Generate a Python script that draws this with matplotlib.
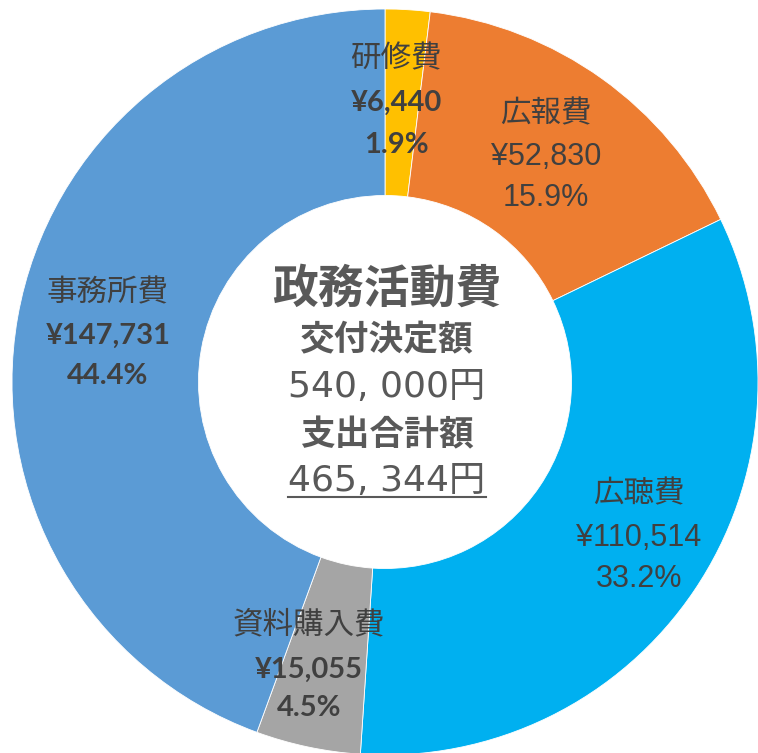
import matplotlib
matplotlib.use("Agg")
import matplotlib.pyplot as plt

plt.rcParams['font.family'] = ['Noto Sans CJK JP', 'DejaVu Sans']

categories = ['研修費', '広報費', '広聴費', '資料購入費', '事務所費']
values = [6440, 52830, 110514, 15055, 147731]
value_labels = ['¥6,440', '¥52,830', '¥110,514', '¥15,055', '¥147,731']
pct_labels = ['1.9%', '15.9%', '33.2%', '4.5%', '44.4%']
colors = ['#FFC000', '#ED7D31', '#00B0F0', '#A5A5A5', '#5B9BD5']
bold_values = [True, False, False, True, True]

center_lines = ['政務活動費', '交付決定額', '540, 000円', '支出合計額', '465, 344円']

W, H = 758, 753
CX, CY, R = 385, 382, 373

fig = plt.figure(figsize=(W / 100, H / 100), dpi=100)
ax = fig.add_axes([0, 0, 1, 1])
ax.axis('off')

ax.pie(values, colors=colors, startangle=90, counterclock=False, radius=1.0,
       wedgeprops=dict(width=0.5, edgecolor='white', linewidth=0.6))
ax.set_xlim(-CX / R, (W - CX) / R)
ax.set_ylim(-(H - CY) / R, CY / R)
ax.set_aspect('auto')


def d(px, py):
    return (px - CX) / R, (CY - py) / R


label_pos = [
    (396, [59, 103, 145]),
    (546, [114, 157, 198]),
    (639, [494, 538, 579]),
    (309, [625, 670, 708]),
    (108, [293, 336, 376]),
]

tc = '#404040'
for i, (px, ys) in enumerate(label_pos):
    x, y0 = d(px, ys[0])
    ax.text(x, y0, categories[i], ha='center', va='center', fontsize=22, color=tc)
    wt = 'bold' if bold_values[i] else 'normal'
    fam = ['Lato', 'DejaVu Sans'] if bold_values[i] else ['Liberation Sans Narrow', 'Liberation Sans', 'DejaVu Sans']
    fs = 21 if bold_values[i] else 22
    _, y1 = d(px, ys[1])
    ax.text(x, y1, value_labels[i], ha='center', va='center', fontsize=fs,
            color=tc, fontweight=wt, family=fam)
    _, y2 = d(px, ys[2])
    ax.text(x, y2, pct_labels[i], ha='center', va='center', fontsize=fs,
            color=tc, fontweight=wt, family=fam)

cc = '#595959'
center_y = [290, 340, 387, 435, 481]
center_size = [33, 25, 26, 25, 26]
center_wt = ['bold', 'bold', 'normal', 'bold', 'normal']
center_fam = [None, None, ['DejaVu Sans', 'Noto Sans CJK JP'], None, ['DejaVu Sans', 'Noto Sans CJK JP']]
texts = []
for s, py, fs, wt, fam in zip(center_lines, center_y, center_size, center_wt, center_fam):
    x, y = d(387, py)
    kw = {} if fam is None else {'family': fam}
    t = ax.text(x, y, s, ha='center', va='center', fontsize=fs, color=cc, fontweight=wt, **kw)
    texts.append(t)

fig.canvas.draw()
bb = texts[-1].get_window_extent(renderer=fig.canvas.get_renderer())
inv = ax.transData.inverted()
(x0, yb), (x1, _) = inv.transform([(bb.x0, bb.y0), (bb.x1, bb.y0)])
ax.plot([x0, x1], [yb + 0.002, yb + 0.002], color=cc, linewidth=1.5)

fig.savefig('out.png', dpi=100, facecolor='white')
